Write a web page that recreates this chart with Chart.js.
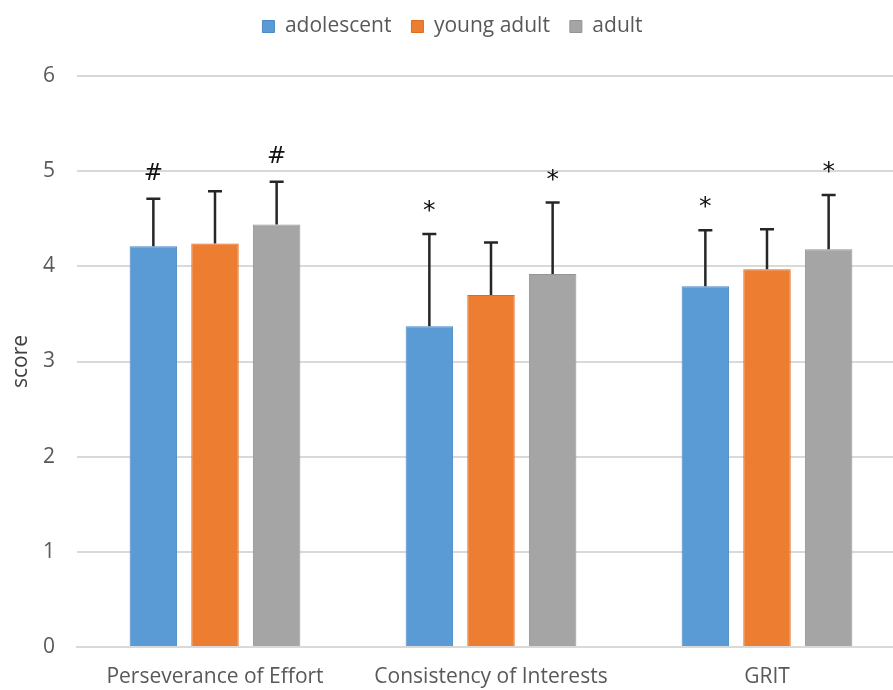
<!DOCTYPE html>
<html>
<head>
<meta charset="utf-8">
<script src="https://cdn.jsdelivr.net/npm/chart.js@4.4.1/dist/chart.umd.min.js"></script>
<style>
  html, body { margin: 0; padding: 0; background: #fff; overflow: hidden; }
  /* the original plot runs a little past the right edge of the picture */
  #wrap { width: 905px; height: 690px; }
</style>
</head>
<body>
<div id="wrap"><canvas id="chart"></canvas></div>
<script>
// Grit subscales by age group — means with upward SD bars.
const CATEGORIES = ['Perseverance of Effort', 'Consistency of Interests', 'GRIT'];
const GROUPS = ['adolescent', 'young adult', 'adult'];
const COLORS = ['#5B9BD5', '#ED7D31', '#A5A5A5'];
const BORDERS = ['#4a8ac4', '#dc6c20', '#949494'];

const adolescent = [4.21, 3.37, 3.79];
const youngAdult = [4.24, 3.70, 3.97];
const adult = [4.44, 3.92, 4.18];

const adolescentSD = [0.50, 0.97, 0.59];
const youngAdultSD = [0.55, 0.55, 0.42];
const adultSD = [0.45, 0.75, 0.57];

// significance markers above the error bars
const adolescentMark = ['#', '*', '*'];
const youngAdultMark = ['', '', ''];
const adultMark = ['#', '*', '*'];

const Y_TICKS = [0, 1, 2, 3, 4, 5, 6];

const SERIES = [adolescent, youngAdult, adult];
const SDS = [adolescentSD, youngAdultSD, adultSD];
const MARKS = [adolescentMark, youngAdultMark, adultMark];

const FONT = '"Open Sans", "Noto Sans", sans-serif';

// ── Error bars + markers ──────────────────────────────────────────────────────
const errorBars = {
  id: 'errorBars',
  afterDatasetsDraw(chart) {
    const { ctx, scales: { y } } = chart;
    ctx.save();
    chart.data.datasets.forEach((ds, di) => {
      const meta = chart.getDatasetMeta(di);
      meta.data.forEach((bar, i) => {
        const top = y.getPixelForValue(ds.data[i] + SDS[di][i]);
        const base = bar.y;
        ctx.strokeStyle = '#262626';
        ctx.lineWidth = 2.5;
        ctx.beginPath();
        ctx.moveTo(bar.x, base);
        ctx.lineTo(bar.x, top);
        ctx.moveTo(bar.x - 7, top);
        ctx.lineTo(bar.x + 7, top);
        ctx.stroke();
        const mk = MARKS[di][i];
        if (mk) {
          ctx.fillStyle = '#111';
          ctx.font = (mk === '*' ? '25px' : '23px') + ' "DejaVu Sans", sans-serif';
          ctx.textAlign = 'center';
          ctx.textBaseline = 'alphabetic';
          ctx.fillText(mk, bar.x, top - (mk === '*' ? 16 : 19));
        }
      });
    });
    ctx.restore();
  }
};

// fixed legend band height, so the plot starts where the original does
const legendBand = {
  id: 'legendBand',
  beforeInit(chart) {
    const fit = chart.legend.fit;
    chart.legend.fit = function () {
      fit.bind(chart.legend)();
      this.height = 80;
    };
  }
};

new Chart(document.getElementById('chart'), {
  type: 'bar',
  data: {
    labels: CATEGORIES,
    datasets: GROUPS.map((g, i) => ({
      label: g,
      data: SERIES[i],
      backgroundColor: COLORS[i],
      borderColor: BORDERS[i],
      borderWidth: 1,
      barPercentage: 0.77,
      categoryPercentage: 0.67,
    })),
  },
  options: {
    responsive: true,
    maintainAspectRatio: false,
    animation: false,
    layout: { padding: { left: 0, right: 0, top: -4, bottom: 0 } },
    plugins: {
      legend: {
        position: 'top',
        labels: {
          font: { family: FONT, size: 21 },
          color: '#595959',
          boxWidth: 12,
          boxHeight: 12,
          padding: 20,
        },
      },
      tooltip: { enabled: false },
    },
    scales: {
      x: {
        afterFit: (axis) => { axis.height = 43; },
        grid: { display: false, drawTicks: false },
        border: { color: '#d9d9d9', width: 2 },
        ticks: { font: { family: FONT, size: 21 }, color: '#595959', padding: 17, maxRotation: 0 },
      },
      y: {
        min: 0,
        max: 6,
        afterBuildTicks: (axis) => { axis.ticks = Y_TICKS.map((v) => ({ value: v })); },
        afterFit: (axis) => { axis.width = 77; },
        grid: { color: '#d9d9d9', lineWidth: 2, drawTicks: false },
        border: { display: false },
        ticks: { font: { family: FONT, size: 21 }, color: '#595959', padding: 22 },
        title: { display: true, text: 'score', font: { family: FONT, size: 21 }, color: '#404040', padding: 8 },
      },
    },
  },
  plugins: [errorBars, legendBand],
});
</script>
</body>
</html>
